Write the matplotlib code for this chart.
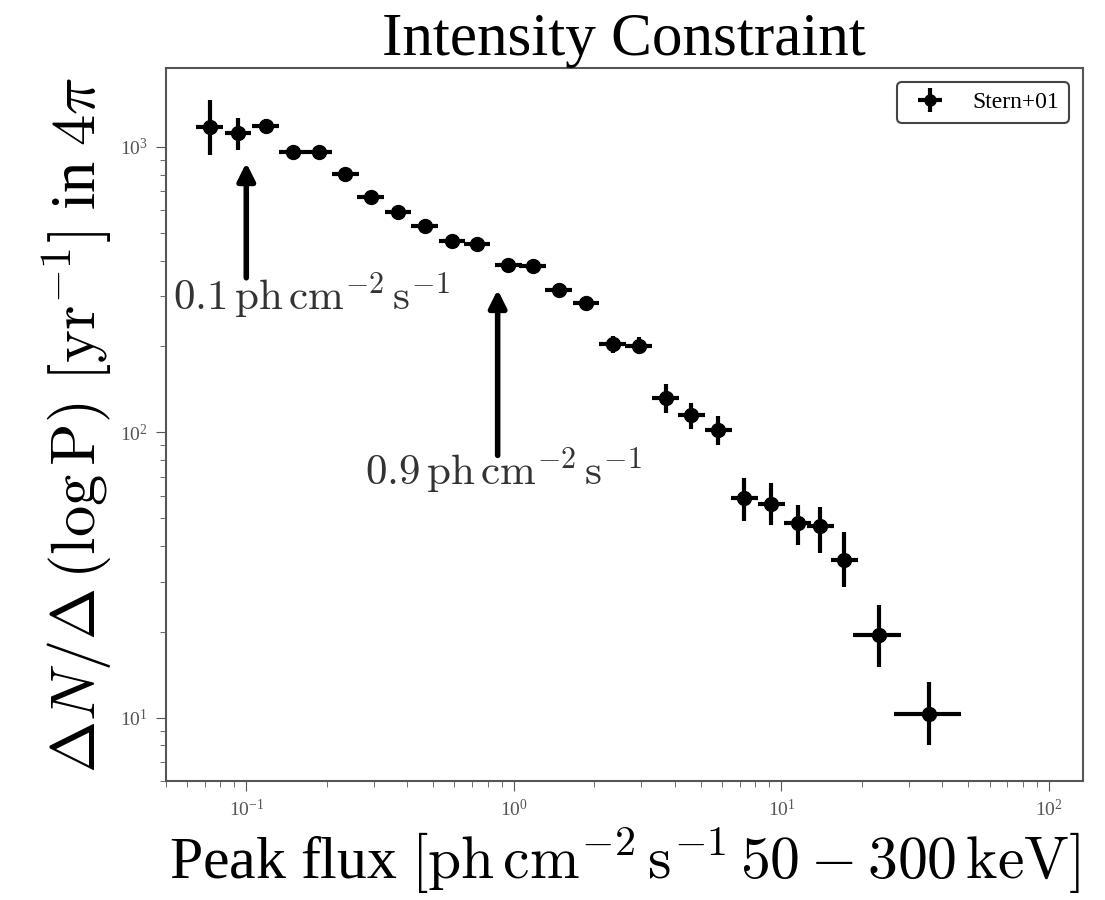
import numpy as np
import matplotlib
matplotlib.use("Agg")
from matplotlib import pyplot as plt

# datos (Stern+01)
flujo = [0.073, 0.093, 0.118, 0.149, 0.187, 0.234, 0.292, 0.369, 0.465, 0.587, 0.728, 0.95, 1.18, 1.47,
         1.86, 2.34, 2.93, 3.69, 4.61, 5.82, 7.28, 9.18, 11.5, 14.0, 17.2, 23.2, 35.6]
flujo_lo = [0.065, 0.083, 0.105, 0.133, 0.167, 0.209, 0.260, 0.329, 0.414, 0.523, 0.649, 0.847, 1.05, 1.31,
            1.66, 2.09, 2.61, 3.29, 4.11, 5.19, 6.49, 8.18, 10.2, 12.5, 15.3, 18.6, 26.4]
flujo_hi = [0.082, 0.104, 0.132, 0.167, 0.210, 0.263, 0.328, 0.414, 0.522, 0.659, 0.817, 1.07, 1.32, 1.65,
            2.09, 2.63, 3.29, 4.14, 5.17, 6.53, 8.17, 10.3, 12.9, 15.7, 19.3, 27.9, 47.0]
tasa = [1175, 1119, 1185, 960, 960, 804, 668, 592, 528, 469, 457, 386, 383, 316,
        284, 204, 201, 132, 115, 102, 59, 56, 48, 47, 35.7, 19.5, 10.3]
tasa_lo = [937, 976, 1120, 915, 915, 766, 637, 564, 503, 447, 436, 368, 365, 301,
           271, 190, 188, 117, 103, 90, 48.7, 47.4, 40.4, 37.9, 28.8, 15.0, 8.0]
tasa_hi = [1462, 1264, 1253, 1005, 1005, 843, 700, 621, 554, 492, 479, 405, 402, 331,
           298, 218, 215, 148, 127, 114, 69, 66.5, 55.7, 54.8, 44.8, 24.9, 13.3]

# flechas: (x, punta, cola) y posicion del texto
flecha_x = [0.1, 0.87]
flecha_punta = [880, 316]
flecha_cola = [348, 83]
texto_x = [0.053, 0.278]
texto_y = [300, 73]
textos = [r'$0.1\,\mathrm{ph\,cm^{-2}\,s^{-1}}$', r'$0.9\,\mathrm{ph\,cm^{-2}\,s^{-1}}$']

plt.rcParams['font.family'] = ['Liberation Serif', 'DejaVu Serif']
plt.rcParams['mathtext.fontset'] = 'cm'

x = np.array(flujo)
y = np.array(tasa)
xerr = [x - np.array(flujo_lo), np.array(flujo_hi) - x]
yerr = [y - np.array(tasa_lo), np.array(tasa_hi) - y]

fig = plt.figure(figsize=(11.05, 9), dpi=100)
ax = fig.add_axes([0.150, 0.1322, 0.830, 0.7922])

ax.errorbar(x, y, xerr=xerr, yerr=yerr, fmt='o', color='black', ms=10, elinewidth=3,
            capsize=0, label='Stern+01')

ax.set_xscale('log')
ax.set_yscale('log')
ax.set_xlim(0.05, 134)
ax.set_ylim(6.0, 1890)

for i in range(len(textos)):
    ax.annotate('', xy=(flecha_x[i], flecha_punta[i]), xytext=(flecha_x[i], flecha_cola[i]),
                arrowprops=dict(arrowstyle='-|>', color='black', lw=4, mutation_scale=26,
                                shrinkA=0, shrinkB=0))
    ax.text(texto_x[i], texto_y[i], textos[i], fontsize=31, va='center', ha='left', color='#333333')

ax.tick_params(axis='both', which='major', labelsize=14, length=7, pad=6, colors='#555555')
ax.tick_params(axis='both', which='minor', length=4, colors='#555555')
for s in ax.spines.values():
    s.set_color('#555555')
    s.set_linewidth(1.5)

ax.set_title('Intensity Constraint', fontsize=44, pad=8)
ax.set_xlabel(r'Peak flux $[\mathrm{ph\,cm^{-2}\,s^{-1}\,50 - 300\,keV}]$', fontsize=43, labelpad=4)
ax.set_ylabel(r'$\Delta N/\Delta\,(\log\mathrm{P})\ [\mathrm{yr}^{-1}]$ in $4\pi$', fontsize=45, labelpad=4)

leg = ax.legend(loc='upper right', fontsize=17, frameon=True, fancybox=True, handlelength=2.0,
                borderaxespad=0.6, framealpha=1, markerscale=0.8)
leg.get_frame().set_edgecolor('#444444')
leg.get_frame().set_linewidth(1.5)

plt.savefig('out.png', dpi=100)
